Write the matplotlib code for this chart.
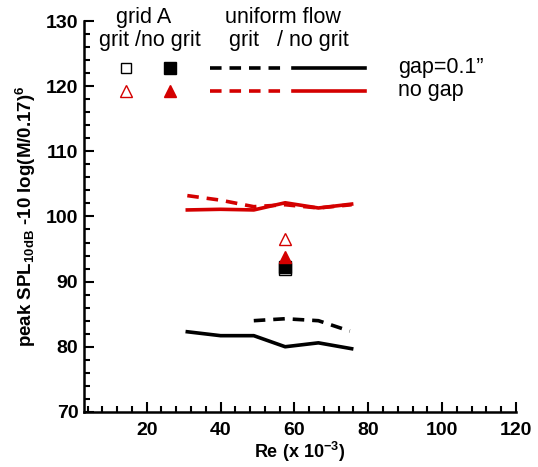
import matplotlib
matplotlib.use("Agg")
import matplotlib.pyplot as plt

plt.rcParams['font.family'] = ['Liberation Sans', 'DejaVu Sans']
plt.rcParams['mathtext.fontset'] = 'custom'
plt.rcParams['mathtext.rm'] = 'Liberation Sans:bold'
plt.rcParams['mathtext.bf'] = 'Liberation Sans:bold'
plt.rcParams['mathtext.default'] = 'rm'

# uniform flow, Re (x 10^-3)
re_uni = [31, 40, 49, 57.5, 66.5, 75.5]
gap_nogrit = [82.3, 81.7, 81.7, 80.0, 80.6, 79.7]
nogap_nogrit = [101.0, 101.1, 101.0, 102.1, 101.3, 101.9]
nogap_grit = [103.2, 102.5, 101.5, 101.8, 101.3, 101.8]
re_gap_grit = [49, 57.5, 66.5, 75]
gap_grit = [84.0, 84.3, 84.0, 82.4]

# grid A
re_grid = [57.5]
grid_gap_grit = [92.0]
grid_gap_nogrit = [92.3]
grid_nogap_grit = [96.6]
grid_nogap_nogrit = [93.8]

red = '#d40000'
lw = 2.6
dash = (3.2, 2.2)

fig = plt.figure(figsize=(5.38, 4.67), dpi=100)
ax = fig.add_axes([0.156, 0.118, 0.803, 0.837])

ax.plot(re_uni, gap_nogrit, color='black', lw=lw)
ax.plot(re_gap_grit, gap_grit, color='black', lw=lw, dashes=dash)
ax.plot(re_uni, nogap_nogrit, color=red, lw=lw)
ax.plot(re_uni, nogap_grit, color=red, lw=lw, dashes=dash)

ax.plot(re_grid, grid_gap_grit, 's', ms=8, mfc='white', mec='black', mew=1)
ax.plot(re_grid, grid_gap_nogrit, 's', ms=8, mfc='black', mec='black')
ax.plot(re_grid, grid_nogap_grit, '^', ms=9, mfc='white', mec=red, mew=1)
ax.plot(re_grid, grid_nogap_nogrit, '^', ms=9, mfc=red, mec=red)

ax.set_xlim(3, 120)
ax.set_ylim(70, 130)
ax.set_xticks([20, 40, 60, 80, 100, 120])
ax.set_xticks(range(4, 121, 4), minor=True)
ax.set_yticks(range(70, 131, 10))
ax.set_yticks(range(70, 131, 2), minor=True)
ax.tick_params(which='both', direction='in', width=1.5, labelsize=14)
ax.tick_params(which='major', length=7)
ax.tick_params(which='minor', length=4)
ax.tick_params(axis='x', pad=7)
ax.tick_params(axis='y', pad=4)
for lab in ax.get_xticklabels() + ax.get_yticklabels():
    lab.set_fontweight('bold')
ax.spines['top'].set_visible(False)
ax.spines['right'].set_visible(False)
ax.spines['left'].set_linewidth(1.8)
ax.spines['bottom'].set_linewidth(1.8)

ax.set_xlabel(r'Re (x 10$^{-3}$)', fontsize=13, fontweight='bold', labelpad=1)
ax.set_ylabel(r'peak SPL$_{10dB}$ -10 log(M/0.17)$^{6}$', fontsize=13.5,
              fontweight='bold', labelpad=6)

# hand-made legend
tr = ax.transAxes
fs = 15.5
ax.text(0.139, 1.01, 'grid A', transform=tr, ha='center', va='center', fontsize=fs)
ax.text(0.153, 0.949, 'grit /no grit', transform=tr, ha='center', va='center', fontsize=fs)
ax.text(0.461, 1.01, 'uniform flow', transform=tr, ha='center', va='center', fontsize=fs)
ax.text(0.475, 0.949, 'grit   / no grit', transform=tr, ha='center', va='center', fontsize=fs)

rows = [(0.880, 'black', 's', 'gap=0.1\u201d', 8), (0.821, red, '^', 'no gap', 9)]
for y, c, m, lab, ms in rows:
    ax.plot([0.097], [y], m, ms=ms - 1, mfc='white', mec=c, mew=1, transform=tr, clip_on=False)
    ax.plot([0.199], [y], m, ms=ms, mfc=c, mec=c, transform=tr, clip_on=False)
    ax.plot([0.292, 0.458], [y, y], color=c, lw=lw, dashes=dash, transform=tr, clip_on=False)
    ax.plot([0.484, 0.650], [y, y], color=c, lw=lw, transform=tr, clip_on=False)
    ax.text(0.727, y, lab, transform=tr, ha='left', va='center', fontsize=fs)

fig.savefig('out.png', dpi=100)
